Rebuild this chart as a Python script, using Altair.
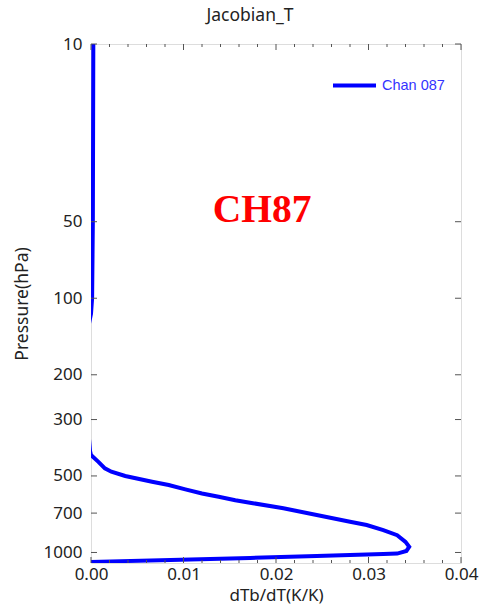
import altair as alt
import pandas as pd

pressure = [10, 50, 100, 115, 130, 200, 300, 400, 414, 440, 467, 481, 500, 527, 543, 565,
            586, 604, 623, 640, 670, 712, 757, 780, 816, 855, 908, 950, 986, 1010, 1015,
            1033, 1051, 1070, 1089]
jacobian = [0.00025, 0.0002, 0.00012, 0.0, -0.0003, -0.0005, -0.0004, -0.0001, 0.0, 0.0008,
            0.0015, 0.0022, 0.0037, 0.0066, 0.0084, 0.0102, 0.012, 0.0138, 0.0156, 0.0175,
            0.0208, 0.0244, 0.028, 0.0298, 0.0316, 0.0331, 0.034, 0.0344, 0.0341, 0.0331,
            0.0316, 0.0244, 0.0172, 0.0086, 0.0]
series = "Chan 087"

y_ticks = [10, 50, 100, 200, 300, 500, 700, 1000]
x_major = [0.0, 0.01, 0.02, 0.03, 0.04]
x_minor = [0.002, 0.004, 0.006, 0.008, 0.012, 0.014, 0.016, 0.018, 0.022, 0.024,
           0.026, 0.028, 0.032, 0.034, 0.036, 0.038]

W, H = 370, 519
FONT = "Noto Sans"
AX = "#555555"

df = pd.DataFrame({"p": pressure, "j": jacobian, "s": series})

xs = alt.Scale(domain=[0, 0.04], nice=False, zero=False)
ys = alt.Scale(type="log", domain=[10, 1100], reverse=True, nice=False)

xax = alt.Axis(values=x_major, format=".2f", title="dTb/dT(K/K)", ticks=False, domain=False,
               grid=False, labelFontSize=17, labelPadding=3, titleFontSize=17,
               titlePadding=5, labelFont=FONT, titleFont=FONT, labelColor="#222",
               titleColor="#222", titleFontWeight="normal", labelFlush=False)
yax = alt.Axis(values=y_ticks, format="d", title="Pressure(hPa)", ticks=False, domain=False,
               grid=False, labelFontSize=17, labelPadding=9, titleFontSize=17.5,
               titlePadding=12, labelFont=FONT, titleFont=FONT, labelColor="#222",
               titleColor="#222", titleFontWeight="normal", labelFlush=False)

line = alt.Chart(df).mark_line(strokeWidth=4, clip=True).encode(
    x=alt.X("j:Q", scale=xs, axis=xax),
    y=alt.Y("p:Q", scale=ys, axis=yax),
    order=alt.Order("p:Q"),
    color=alt.Color("s:N", scale=alt.Scale(range=["#0000ff"]),
                    legend=alt.Legend(orient="none", legendX=240, legendY=18, title=None,
                                      symbolType="stroke", symbolStrokeWidth=4,
                                      symbolSize=1849, labelColor="#3333ff",
                                      labelFontSize=14.5, labelFont="Liberation Sans",
                                      labelOffset=4)),
)

xmaj = pd.DataFrame({"x": x_major})
xmin = pd.DataFrame({"x": x_minor})
ytk = pd.DataFrame({"y": y_ticks})

def xticks(d, length):
    bot = alt.Chart(d).mark_rule(color=AX, strokeWidth=1).encode(
        x=alt.X("x:Q", scale=xs), y=alt.value(H), y2=alt.value(H - length))
    top = alt.Chart(d).mark_rule(color=AX, strokeWidth=1).encode(
        x=alt.X("x:Q", scale=xs), y=alt.value(0), y2=alt.value(length))
    return [bot, top]

yl = alt.Chart(ytk).mark_rule(color=AX, strokeWidth=1).encode(
    y=alt.Y("y:Q", scale=ys), x=alt.value(0), x2=alt.value(6))
yr = alt.Chart(ytk).mark_rule(color=AX, strokeWidth=1).encode(
    y=alt.Y("y:Q", scale=ys), x=alt.value(W - 6), x2=alt.value(W))

label = alt.Chart(pd.DataFrame({"t": ["CH87"]})).mark_text(
    font="Liberation Serif", fontWeight="bold", fontSize=39.5, color="#ff0000",
    align="center", baseline="middle").encode(
    text="t:N", x=alt.value(171), y=alt.value(166))

chart = alt.layer(line, *xticks(xmaj, 6), *xticks(xmin, 3), yl, yr, label).properties(
    width=W, height=H,
    title=alt.TitleParams("Jacobian_T", fontSize=17.5, font=FONT, fontWeight="normal",
                          color="#222", anchor="middle", dx=-26, offset=11),
    autosize=alt.AutoSizeParams(type="none"),
    padding={"left": 91, "top": 44, "right": 20, "bottom": 50},
).configure_view(stroke=AX, strokeWidth=1.5).configure(background="white")

chart.save("out.html", embed_options={"renderer": "svg", "actions": False})
